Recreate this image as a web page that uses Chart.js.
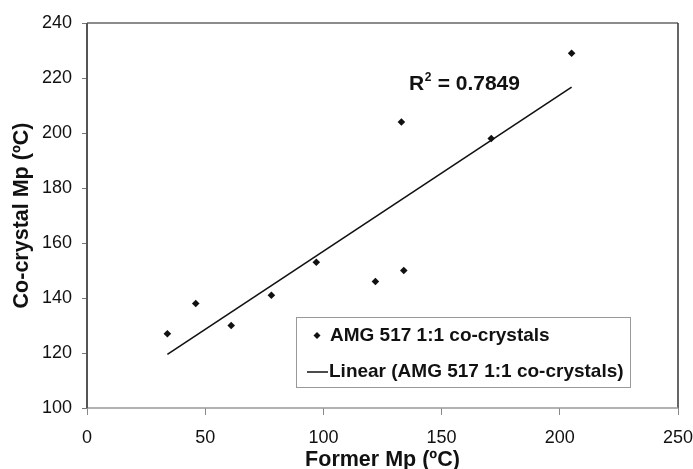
<!DOCTYPE html>
<html>
<head>
<meta charset="utf-8">
<script src="https://cdn.jsdelivr.net/npm/chart.js@4.4.1/dist/chart.umd.min.js"></script>
<style>
html,body{margin:0;padding:0;background:#fff;}
#wrap{width:693px;height:469px;position:relative;}
</style>
</head>
<body>
<div id="wrap"><canvas id="c" width="693" height="469"></canvas></div>
<script>
// Former Mp (ºC) vs Co-crystal Mp (ºC)
const formerMp = [34, 46, 61, 78, 97, 122, 133, 134, 171, 205];
const cocrystalMp = [127, 138, 130, 141, 153, 146, 204, 150, 198, 229];
const xTicks = [0, 50, 100, 150, 200, 250];
const yTicks = [100, 120, 140, 160, 180, 200, 220, 240];
const seriesLabel = 'AMG 517 1:1 co-crystals';
const trendLabel = 'Linear (AMG 517 1:1 co-crystals)';
const r2Text = '0.7849';

// least-squares linear fit of the data (the chart's trendline)
const n = formerMp.length;
const mx = formerMp.reduce((a,b)=>a+b,0)/n;
const my = cocrystalMp.reduce((a,b)=>a+b,0)/n;
let sxy=0,sxx=0;
for(let i=0;i<n;i++){sxy+=(formerMp[i]-mx)*(cocrystalMp[i]-my);sxx+=(formerMp[i]-mx)**2;}
const slope=sxy/sxx, icpt=my-slope*mx;
const xMin=Math.min(...formerMp), xMax=Math.max(...formerMp);
const trendData=[{x:xMin,y:icpt+slope*xMin},{x:xMax,y:icpt+slope*xMax}];

const FONT='"Liberation Sans", Arial, sans-serif';

function line(ctx,x1,y1,x2,y2,c,w){ctx.beginPath();ctx.strokeStyle=c;ctx.lineWidth=w;ctx.moveTo(x1,y1);ctx.lineTo(x2,y2);ctx.stroke();}

const framePlugin={
  id:'frame',
  beforeDatasetsDraw(chart){
    const {ctx,chartArea:a}=chart;
    ctx.save();
    line(ctx,a.left,a.top,a.right,a.top,'#666',1.5);
    line(ctx,a.right,a.top,a.right,a.bottom,'#333',1.5);
    line(ctx,a.left,a.bottom,a.right,a.bottom,'#999',1.5);
    line(ctx,a.left,a.top,a.left,a.bottom,'#555',2);
    ctx.restore();
  },
  afterDraw(chart){
    const {ctx,chartArea:a,scales}=chart;
    ctx.save();
    // R² annotation
    ctx.fillStyle='#111';
    ctx.textBaseline='alphabetic';
    ctx.font='bold 21px '+FONT;
    let x=scales.x.getPixelForValue(136.2), y=scales.y.getPixelForValue(215.6);
    ctx.fillText('R',x,y);
    x+=ctx.measureText('R').width;
    ctx.font='bold 12px '+FONT;
    ctx.fillText('2',x+0.5,y-9);
    x+=ctx.measureText('2').width+1;
    ctx.font='bold 21px '+FONT;
    ctx.fillText(' = '+r2Text,x,y);
    // legend box
    const lx=a.left+209, ly=a.top+294, lw=334, lh=70;
    ctx.fillStyle='#fff';
    ctx.fillRect(lx,ly,lw,lh);
    ctx.strokeStyle='#999';
    ctx.lineWidth=1;
    ctx.strokeRect(lx+0.5,ly+0.5,lw,lh);
    ctx.font='bold 19px '+FONT;
    ctx.fillStyle='#111';
    ctx.textBaseline='middle';
    const ds=chart.data.datasets;
    const r1=ly+18.5;
    ctx.beginPath();
    const mx0=lx+21;
    ctx.moveTo(mx0,r1-3.5);ctx.lineTo(mx0+3.5,r1);ctx.lineTo(mx0,r1+3.5);ctx.lineTo(mx0-3.5,r1);ctx.closePath();
    ctx.fill();
    ctx.fillText(ds[0].label,lx+34,r1);
    const r2=ly+55;
    line(ctx,lx+11,r2,lx+32,r2,'#111',1.5);
    ctx.fillText(ds[1].label,lx+33,r2);
    ctx.restore();
  }
};

new Chart(document.getElementById('c'),{
  type:'scatter',
  data:{datasets:[
    {label:seriesLabel,data:formerMp.map((v,i)=>({x:v,y:cocrystalMp[i]})),
     pointStyle:'rectRot',pointRadius:3.8,pointHoverRadius:3.8,backgroundColor:'#111',borderColor:'#111',borderWidth:0,showLine:false},
    {label:trendLabel,data:trendData,showLine:true,borderColor:'#111',borderWidth:1.6,pointRadius:0,fill:false}
  ]},
  options:{
    responsive:false,animation:false,
    layout:{padding:{left:0,right:15,top:23,bottom:0}},
    plugins:{legend:{display:false},tooltip:{enabled:false}},
    scales:{
      x:{type:'linear',min:0,max:250,
        afterBuildTicks(s){s.ticks=xTicks.map(v=>({value:v}));},
        afterFit(s){s.height=61;s.paddingLeft=0;s.paddingRight=0;},
        grid:{drawOnChartArea:false,drawTicks:true,tickLength:7,tickColor:'#888'},
        border:{display:false},
        ticks:{color:'#111',font:{family:FONT,size:18},padding:12,maxRotation:0},
        title:{display:true,text:'Former Mp (ºC)',color:'#111',font:{family:FONT,size:21.5,weight:'bold',lineHeight:1},padding:{top:0,bottom:-1.75}}
      },
      y:{type:'linear',min:100,max:240,
        afterBuildTicks(s){s.ticks=yTicks.map(v=>({value:v}));},
        afterFit(s){s.width=87;},
        grid:{drawOnChartArea:false,drawTicks:true,tickLength:5,tickColor:'#777'},
        border:{display:false},
        ticks:{color:'#111',font:{family:FONT,size:18},padding:10},
        title:{display:true,text:'Co-crystal Mp (ºC)',color:'#111',font:{family:FONT,size:21.5,weight:'bold',lineHeight:1},padding:{top:11.25,bottom:0}}
      }
    }
  },
  plugins:[framePlugin]
});
</script>
</body>
</html>
